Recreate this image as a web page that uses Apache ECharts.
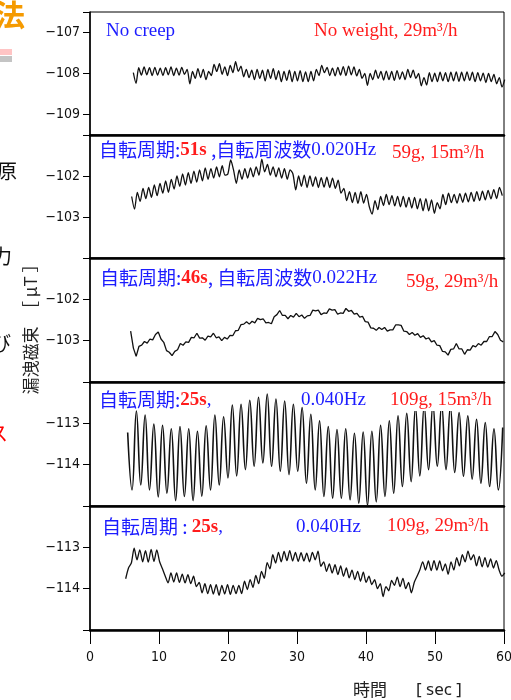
<!DOCTYPE html>
<html><head><meta charset="utf-8">
<script src="https://cdn.jsdelivr.net/npm/echarts@6/dist/echarts.min.js"></script>
<style>html,body{margin:0;padding:0;background:#fff}#c{width:511px;height:700px}</style>
</head><body><div id="c"></div>
<script>
// ---- data ----
const xTickLabels = [0, 10, 20, 30, 40, 50, 60];

const range1 = [-109.5, -106.5];
const ticks1 = [-109, -108, -107];
const t0_1 = 6.28, dt_1 = 0.39;
const s1 = [-107.98,-108.24,-107.86,-108.04,-107.84,-108.03,-107.86,-108.05,-107.85,-108.04,
-107.87,-108.05,-107.86,-108.03,-107.84,-108.05,-107.87,-108.04,-107.85,-108.02,
-107.90,-108.25,-107.95,-108.12,-107.88,-108.10,-107.90,-108.15,-107.95,-108.05,
-107.78,-107.95,-107.76,-108.02,-107.84,-108.05,-107.80,-107.98,-107.71,-107.95,
-107.82,-108.08,-107.90,-108.10,-107.92,-108.15,-107.90,-108.12,-107.92,-108.18,
-107.90,-108.12,-107.88,-108.15,-107.93,-108.20,-107.95,-108.17,-107.92,-108.20,
-107.95,-108.18,-107.93,-108.20,-107.96,-108.20,-107.95,-108.18,-107.90,-108.05,
-107.80,-107.98,-107.85,-108.05,-107.87,-108.06,-107.85,-108.04,-107.83,-108.05,
-107.82,-108.03,-107.84,-108.06,-107.90,-108.12,-108.00,-108.29,-108.00,-108.15,
-107.92,-108.12,-107.95,-108.16,-107.94,-108.15,-107.95,-108.17,-107.93,-108.14,
-107.96,-108.15,-107.90,-108.10,-107.92,-108.12,-108.00,-108.30,-108.10,-108.28,
-107.98,-108.20,-107.99,-108.20,-107.97,-108.18,-107.98,-108.20,-107.97,-108.18,
-107.96,-108.19,-107.97,-108.18,-107.96,-108.17,-107.97,-108.20,-107.98,-108.18,
-107.99,-108.22,-108.00,-108.20,-108.02,-108.25,-108.10,-108.33,-108.15];

const range2 = [-104, -101];
const ticks2 = [-103, -102];
const t0_2 = 6.04, dt_2 = 0.41;
const s2 = [-102.50,-102.81,-102.40,-102.62,-102.30,-102.55,-102.28,-102.52,-102.22,-102.48,
-102.18,-102.42,-102.12,-102.40,-102.08,-102.32,-102.00,-102.25,-101.95,-102.22,
-101.92,-102.18,-101.88,-102.15,-101.85,-102.12,-101.80,-102.08,-101.82,-102.05,
-101.78,-102.02,-101.75,-101.98,-101.95,-101.61,-101.85,-102.18,-101.85,-102.08,
-101.82,-102.05,-101.80,-102.02,-101.78,-101.98,-101.59,-101.90,-101.72,-101.98,
-101.78,-102.02,-101.80,-102.05,-101.82,-102.08,-101.85,-101.95,-102.34,-102.00,
-102.25,-101.98,-102.28,-102.00,-102.25,-102.02,-102.28,-102.04,-102.27,-102.03,
-102.28,-102.05,-102.30,-102.10,-102.42,-102.30,-102.60,-102.38,-102.65,-102.40,
-102.67,-102.38,-102.66,-102.45,-102.75,-102.93,-102.60,-102.82,-102.50,-102.72,
-102.45,-102.70,-102.48,-102.73,-102.50,-102.75,-102.50,-102.76,-102.52,-102.78,
-102.52,-102.80,-102.55,-102.85,-102.55,-102.85,-102.58,-102.91,-102.65,-102.80,
-102.45,-102.70,-102.42,-102.65,-102.45,-102.66,-102.43,-102.64,-102.42,-102.63,
-102.40,-102.62,-102.38,-102.60,-102.37,-102.58,-102.35,-102.56,-102.33,-102.55,
-102.28,-102.48];

const range3 = [-104, -101];
const ticks3 = [-103, -102];
const t0_3 = 5.89, dt_3 = 0.40;
const s3 = [-102.77,-103.18,-103.38,-103.14,-103.11,-103.02,-103.06,-102.96,-102.98,-102.85,
-102.79,-102.96,-103.04,-103.24,-103.28,-103.36,-103.26,-103.22,-103.07,-103.11,
-103.03,-103.04,-102.92,-102.93,-102.82,-102.94,-102.93,-102.99,-102.89,-102.91,
-102.82,-102.93,-102.91,-103.00,-102.92,-102.96,-102.87,-102.88,-102.76,-102.75,
-102.61,-102.60,-102.54,-102.60,-102.53,-102.57,-102.46,-102.49,-102.47,-102.57,
-102.56,-102.59,-102.42,-102.37,-102.27,-102.39,-102.39,-102.47,-102.39,-102.43,
-102.34,-102.42,-102.38,-102.46,-102.40,-102.39,-102.26,-102.28,-102.26,-102.37,
-102.33,-102.34,-102.23,-102.26,-102.25,-102.36,-102.33,-102.34,-102.22,-102.29,
-102.27,-102.36,-102.34,-102.43,-102.41,-102.54,-102.55,-102.69,-102.70,-102.75,
-102.68,-102.73,-102.68,-102.77,-102.74,-102.74,-102.62,-102.62,-102.63,-102.77,
-102.78,-102.85,-102.80,-102.87,-102.83,-102.92,-102.88,-102.96,-102.93,-103.03,
-103.00,-103.11,-103.12,-103.26,-103.27,-103.35,-103.21,-103.20,-103.07,-103.20,
-103.20,-103.33,-103.22,-103.23,-103.12,-103.15,-103.07,-103.11,-103.02,-103.02,
-102.90,-102.90,-102.78,-102.85,-102.99,-103.03];

const range4 = [-115, -112];
const ticks4 = [-114, -113];
const t0_4 = 5.46, dt_4 = 0.632;
const s4 = [-113.22,-114.61,-112.70,-114.49,-112.80,-114.61,-113.02,-114.78,-113.05,-114.69,
-113.13,-114.87,-113.08,-114.77,-113.13,-114.87,-113.19,-114.76,-113.06,-114.61,
-112.80,-114.49,-112.84,-114.32,-112.56,-114.27,-112.54,-114.12,-112.44,-114.04,
-112.37,-113.96,-112.29,-114.04,-112.41,-114.16,-112.46,-114.24,-112.54,-114.16,
-112.62,-114.45,-112.78,-114.61,-112.94,-114.77,-113.08,-114.81,-113.15,-114.81,
-113.13,-114.85,-113.24,-114.93,-113.21,-114.98,-113.19,-114.90,-113.05,-114.77,
-112.94,-114.69,-112.82,-114.53,-112.76,-114.41,-112.62,-114.27,-112.58,-114.12,
-112.55,-114.04,-112.55,-114.12,-112.60,-114.19,-112.74,-114.28,-112.82,-114.35,
-112.90,-114.45,-112.98,-114.53,-113.13,-114.61,-113.10];

const range5 = [-115, -112];
const ticks5 = [-114, -113];
const t0_5 = 5.17, dt_5 = 0.41;
const s5 = [-113.76,-113.50,-113.38,-113.02,-113.30,-113.06,-113.35,-113.08,-113.36,-113.05,
-113.34,-113.06,-113.35,-113.52,-113.70,-113.86,-113.62,-113.84,-113.62,-113.85,
-113.65,-113.86,-113.66,-113.88,-113.70,-113.95,-113.85,-114.10,-113.88,-114.12,
-113.90,-114.13,-113.90,-114.16,-113.92,-114.13,-113.90,-114.14,-113.92,-114.12,
-113.92,-114.12,-113.82,-114.02,-113.78,-113.97,-113.68,-113.88,-113.58,-113.75,
-113.37,-113.52,-113.18,-113.38,-113.12,-113.35,-113.10,-113.32,-113.08,-113.33,
-113.12,-113.34,-113.13,-113.33,-113.14,-113.35,-113.12,-113.30,-113.09,-113.46,
-113.35,-113.58,-113.40,-113.62,-113.42,-113.66,-113.45,-113.70,-113.50,-113.74,
-113.55,-113.78,-113.58,-113.82,-113.60,-113.85,-113.70,-113.90,-113.78,-114.00,
-113.88,-114.19,-113.95,-114.05,-113.80,-113.92,-113.72,-113.95,-113.75,-114.00,
-113.85,-114.10,-113.85,-113.70,-113.54,-113.35,-113.55,-113.33,-113.56,-113.32,
-113.55,-113.33,-113.57,-113.40,-113.65,-113.35,-113.55,-113.25,-113.45,-113.18,
-113.35,-113.09,-113.30,-113.18,-113.45,-113.22,-113.47,-113.25,-113.48,-113.28,
-113.50,-113.32,-113.55,-113.70,-113.62];

// ---- chart ----
const panels = [
  {data: s1, t0: t0_1, dt: dt_1, range: range1, ticks: ticks1, smooth: 0.25},
  {data: s2, t0: t0_2, dt: dt_2, range: range2, ticks: ticks2, smooth: 0.25},
  {data: s3, t0: t0_3, dt: dt_3, range: range3, ticks: ticks3, smooth: 0},
  {data: s4, t0: t0_4, dt: dt_4, range: range4, ticks: ticks4, smooth: 0.45},
  {data: s5, t0: t0_5, dt: dt_5, range: range5, ticks: ticks5, smooth: 0.25}
];
const tops = [12, 135, 258, 382, 506];
const heights = [123, 123, 124, 124, 124];
const numFont = "'Liberation Sans Narrow','DejaVu Sans Condensed','Liberation Sans',sans-serif";
const jp = "'Noto Sans CJK JP','Noto Sans CJK SC',sans-serif";
const serif = "'Liberation Serif','DejaVu Serif',serif";
const BLUE = '#1c1cff', RED = '#ff1c1c';

const chart = echarts.init(document.getElementById('c'), null, {renderer: 'canvas'});

const grid = panels.map((p, i) => ({
  left: 90, width: 414, top: tops[i], height: heights[i],
  outerBoundsMode: 'none', containLabel: false,
  show: true, borderColor: '#000', borderWidth: 1, backgroundColor: 'rgba(0,0,0,0)'
}));

const xAxis = panels.map((p, i) => {
  const last = i === panels.length - 1;
  return {
    gridIndex: i, type: 'value',
    min: xTickLabels[0], max: xTickLabels[xTickLabels.length - 1], interval: 10,
    axisLine: {show: true, onZero: false, lineStyle: {color: '#000', width: 2.5}},
    axisTick: {show: last, length: 14, lineStyle: {color: '#000', width: 1}},
    axisLabel: {show: last, margin: 20, fontSize: 14, color: '#111', fontFamily: numFont,
      hideOverlap: false, showMinLabel: true, showMaxLabel: true},
    splitLine: {show: false}
  };
});

const yAxis = panels.map((p, i) => ({
  gridIndex: i, type: 'value', min: p.range[0], max: p.range[1],
  axisLine: {show: true, onZero: false, lineStyle: {color: '#000', width: 1.5}},
  axisTick: {show: true, length: 7, lineStyle: {color: '#000', width: 1},
    customValues: [p.range[0]].concat(p.ticks, [p.range[1]])},
  axisLabel: {customValues: p.ticks, margin: 10, fontSize: 14, color: '#111', fontFamily: numFont,
    formatter: v => (Math.abs(v - Math.round(v)) > 1e-6 ? '' : '\u2212' + Math.abs(v))},
  splitLine: {show: false}
}));

const series = panels.map((p, i) => ({
  type: 'line', xAxisIndex: i, yAxisIndex: i,
  data: p.data.map((v, k) => [p.t0 + k * p.dt, v]),
  showSymbol: false, smooth: p.smooth, clip: true, z: 2,
  lineStyle: {color: '#111', width: i === 3 ? 1.6 : 1.3}
}));

function txt(x, y, text, extra) {
  return {
    type: 'text', x: x, y: y, z: 100,
    style: Object.assign({text: text, rich: rich, verticalAlign: 'middle', align: 'left'}, extra || {})
  };
}
const rich = {
  b: {fontFamily: jp, fontSize: 19, fill: BLUE},
  r: {fontFamily: serif, fontSize: 19, fontWeight: 'bold', fill: RED},
  s: {fontFamily: serif, fontSize: 19, fill: BLUE},
  w: {fontFamily: serif, fontSize: 19, fill: RED}
};

const graphic = [
  // panel annotations
  txt(106, 31, '{s|No creep}'),
  txt(314, 31, '{w|No weight, 29m\u00b3/h}'),
  txt(99, 150, '{b|自転周期:}{r|51s}{b| ,自転周波数}{s|0.020Hz}'),
  txt(392, 153, '{w|59g, 15m\u00b3/h}'),
  txt(100, 278, '{b|自転周期:}{r|46s}{b|, 自転周波数}{s|0.022Hz}'),
  txt(406, 282, '{w|59g, 29m\u00b3/h}'),
  txt(99, 400, '{b|自転周期:}{r|25s}{s|,}'),
  txt(301, 400, '{s|0.040Hz}'),
  txt(388, 400, '{w|109g, 15m\u00b3/h}', {backgroundColor: '#fff', padding: [2, 2, 1, 2]}),
  txt(102, 527, '{b|自転周期 : }{r|25s}{s|,}'),
  txt(296, 527, '{s|0.040Hz}'),
  txt(387, 526, '{w|109g, 29m\u00b3/h}'),
  // axis titles
  {type: 'text', x: 31, y: 325, rotation: Math.PI / 2, z: 100,
    style: {text: '漏洩磁束\u3000［ μT ］', fontFamily: jp, fontSize: 17, fill: '#222',
      align: 'center', verticalAlign: 'middle'}},
  {type: 'text', x: 353, y: 690, z: 100,
    style: {text: '時間', fontFamily: jp, fontSize: 17, fill: '#222', verticalAlign: 'middle'}},
  {type: 'text', x: 416, y: 690, z: 100,
    style: {text: '[ sec ]', fontFamily: "'Noto Sans','DejaVu Sans',sans-serif", fontSize: 17, fill: '#222', verticalAlign: 'middle'}},
  // clipped slide fragments on the left edge
  {type: 'text', x: -5, y: 15, z: 100,
    style: {text: '法', fontFamily: jp, fontSize: 30, fontWeight: 'bold', fill: '#f59a00', verticalAlign: 'middle'}},
  {type: 'rect', shape: {x: 0, y: 49, width: 12, height: 6}, style: {fill: '#ffc4c4'}, z: 100},
  {type: 'rect', shape: {x: 0, y: 56, width: 12, height: 6}, style: {fill: '#c4c4c4'}, z: 100},
  {type: 'text', x: -3, y: 171, z: 100,
    style: {text: '原', fontFamily: jp, fontSize: 20, fill: '#111', verticalAlign: 'middle'}},
  {type: 'text', x: -8, y: 256, z: 100,
    style: {text: '力', fontFamily: jp, fontSize: 20, fill: '#111', verticalAlign: 'middle'}},
  {type: 'text', x: -9, y: 343, z: 100,
    style: {text: 'び', fontFamily: jp, fontSize: 20, fill: '#111', verticalAlign: 'middle'}},
  {type: 'text', x: -12, y: 433, z: 100,
    style: {text: 'ス', fontFamily: jp, fontSize: 20, fill: '#ff0000', verticalAlign: 'middle'}}
];

chart.setOption({
  animation: false,
  backgroundColor: '#fff',
  grid: grid, xAxis: xAxis, yAxis: yAxis, series: series, graphic: graphic
});
</script>
</body></html>
